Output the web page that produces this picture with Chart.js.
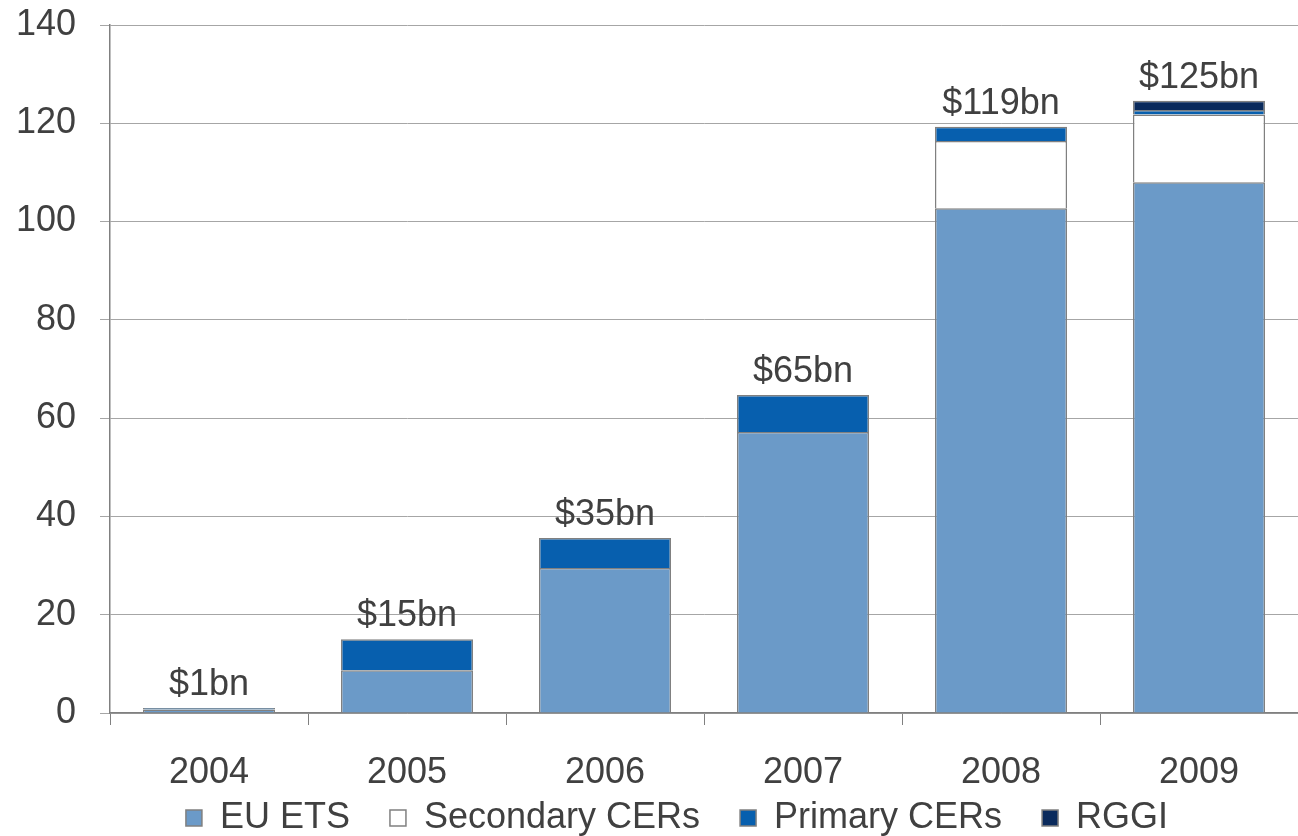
<!DOCTYPE html>
<html>
<head>
<meta charset="utf-8">
<script src="https://cdn.jsdelivr.net/npm/chart.js@4"></script>
<style>
  html, body { margin: 0; padding: 0; background: #ffffff; }
  #wrap { width: 1298px; height: 836px; }
</style>
</head>
<body>
<div id="wrap"><canvas id="c" width="1298" height="836"></canvas></div>
<script>
const categories = ['2004', '2005', '2006', '2007', '2008', '2009'];
const euEts = [0.7, 8.7, 29.5, 57.2, 102.7, 108.0];
const secondaryCers = [null, null, null, null, 13.7, 13.8];
const primaryCers = [0.3, 6.3, 6.1, 7.5, 2.9, 0.9];
const rggi = [null, null, null, null, null, 1.9];
const totalLabels = ['$1bn', '$15bn', '$35bn', '$65bn', '$119bn', '$125bn'];
const yTicks = [0, 20, 40, 60, 80, 100, 120, 140];

const FONT = "'Liberation Sans', Arial, sans-serif";
const TEXT = '#404040';
const BORDER = '#808080';

const totalsPlugin = {
  id: 'totals',
  afterDatasetsDraw(chart) {
    const ctx = chart.ctx;
    const y = chart.scales.y;
    const meta = chart.getDatasetMeta(0);
    ctx.save();
    ctx.font = '36px ' + FONT;
    ctx.fillStyle = TEXT;
    ctx.textAlign = 'center';
    ctx.textBaseline = 'alphabetic';
    categories.forEach((c, i) => {
      const total = [euEts, secondaryCers, primaryCers, rggi].reduce((s, a) => s + (a[i] || 0), 0);
      const px = meta.data[i].x;
      const py = y.getPixelForValue(total);
      ctx.fillText(totalLabels[i], px, py - 13);
    });
    ctx.restore();
  }
};

const legendFitPlugin = {
  id: 'legendFit',
  beforeLayout(chart) {
    const lg = chart.legend;
    if (lg && !lg._patched) {
      const orig = lg.fit;
      lg.fit = function () { orig.call(this); this.height = 33; };
      lg._patched = true;
    }
  },
  afterLayout(chart) {
    const lg = chart.legend;
    if (lg) { lg.left += 56; lg.top -= 43; }
  }
};

new Chart(document.getElementById('c'), {
  type: 'bar',
  data: {
    labels: categories,
    datasets: [
      { label: 'EU ETS', data: euEts, backgroundColor: '#6b9ac8', borderColor: BORDER, borderWidth: 1.5 },
      { label: 'Secondary CERs', data: secondaryCers, backgroundColor: '#ffffff', borderColor: BORDER, borderWidth: 1.5 },
      { label: 'Primary CERs', data: primaryCers, backgroundColor: '#075fae', borderColor: BORDER, borderWidth: 1.5 },
      { label: 'RGGI', data: rggi, backgroundColor: '#0a2a5c', borderColor: BORDER, borderWidth: 1.5 }
    ]
  },
  options: {
    responsive: false,
    animation: false,
    layout: { padding: { top: 25, right: 0, left: 0, bottom: 0 } },
    datasets: { bar: { categoryPercentage: 1, barPercentage: 0.667 } },
    plugins: {
      tooltip: { enabled: false },
      legend: {
        position: 'bottom',
        labels: {
          font: { family: FONT, size: 36 },
          color: TEXT,
          boxWidth: 16,
          boxHeight: 16,
          padding: 40,
          useBorderRadius: false
        }
      }
    },
    scales: {
      x: {
        stacked: true,
        grid: { display: true, drawOnChartArea: false, drawTicks: true, tickLength: 12, color: BORDER, offset: true },
        border: { display: true, color: BORDER, width: 1.5 },
        ticks: { font: { family: FONT, size: 36 }, color: TEXT, padding: 26 },
        afterFit(s) { s.height = 90; }
      },
      y: {
        stacked: true,
        min: 0,
        max: 140,
        afterBuildTicks(s) { s.ticks = yTicks.map(v => ({ value: v })); },
        grid: { color: '#a6a6a6', lineWidth: 1, tickLength: 10, drawTicks: true },
        border: { display: true, color: BORDER, width: 1.5 },
        ticks: { font: { family: FONT, size: 36 }, color: TEXT, padding: 24 },
        afterFit(s) { s.width = 110; s.paddingTop = 0; s.paddingBottom = 0; }
      }
    }
  },
  plugins: [totalsPlugin, legendFitPlugin]
});
</script>
</body>
</html>
